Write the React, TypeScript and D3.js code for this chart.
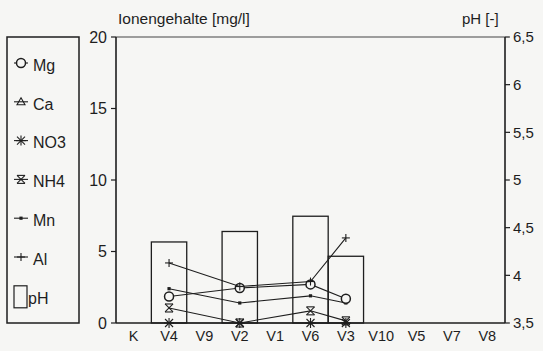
import React from "react";
import * as d3 from "d3";

const categories = ["K", "V4", "V9", "V2", "V1", "V6", "V3", "V10", "V5", "V7", "V8"];
const leftTicks = [0, 5, 10, 15, 20];
const rightTicks = [3.5, 4, 4.5, 5, 5.5, 6, 6.5];

// pH bars
const phCats = ["V4", "V2", "V6", "V3"];
const phValues = [4.35, 4.46, 4.62, 4.2];

// Ion contents (mg/l), in order of phCats
const mgValues = [1.85, 2.45, 2.7, 1.7];
const caValues: (number | null)[] = [null, null, null, null];
const no3Values = [0.0, 0.0, 0.0, 0.0];
const nh4Values = [1.05, 0.0, 0.85, 0.15];
const mnValues = [2.4, 1.4, 1.9, 1.4];
const alValues = [4.2, 2.55, 2.9, 5.95];

const legendNames = ["Mg", "Ca", "NO3", "NH4", "Mn", "Al", "pH"];

const W = 543, H = 351;
const left = 116, right = 505, top = 37, bottom = 323;
const ink = "#1e1e1e";
const bg = "#f6f6f4";
const font = "'Liberation Sans', Arial, sans-serif";

function Marker({ type, x, y }: { type: string; x: number; y: number }) {
  const s = 4;
  switch (type) {
    case "Mg":
      return <circle cx={x} cy={y} r={4.5} fill={bg} stroke={ink} strokeWidth={1.5} />;
    case "Ca":
      return <path d={`M${x},${y - 4}L${x + 4},${y + 3}L${x - 4},${y + 3}Z`} fill="none" stroke={ink} strokeWidth={1.1} />;
    case "NO3":
      return (
        <g stroke={ink} strokeWidth={1.1}>
          <line x1={x - s} y1={y - s} x2={x + s} y2={y + s} />
          <line x1={x - s} y1={y + s} x2={x + s} y2={y - s} />
          <line x1={x} y1={y - s - 1} x2={x} y2={y + s + 1} />
          <line x1={x - s - 1} y1={y} x2={x + s + 1} y2={y} />
        </g>
      );
    case "NH4":
      return (
        <g stroke={ink} strokeWidth={1.1}>
          <line x1={x - s} y1={y - s} x2={x + s} y2={y + s} />
          <line x1={x - s} y1={y + s} x2={x + s} y2={y - s} />
          <line x1={x - s} y1={y - s} x2={x + s} y2={y - s} />
          <line x1={x - s} y1={y + s} x2={x + s} y2={y + s} />
        </g>
      );
    case "Mn":
      return <rect x={x - 1.6} y={y - 1.6} width={3.2} height={3.2} fill={ink} />;
    case "Al":
      return (
        <g stroke={ink} strokeWidth={1.1}>
          <line x1={x - 4} y1={y} x2={x + 4} y2={y} />
          <line x1={x} y1={y - 4} x2={x} y2={y + 4} />
        </g>
      );
    default:
      return null;
  }
}

export default function App() {
  const x = d3.scaleBand<string>().domain(categories).range([left, right]).padding(0);
  const yL = d3.scaleLinear().domain([0, 20]).range([bottom, top]);
  const yR = d3.scaleLinear().domain([3.5, 6.5]).range([bottom, top]);
  const cx = (c: string) => (x(c) ?? 0) + x.bandwidth() / 2;

  const series: { name: string; values: (number | null)[] }[] = [
    { name: "NO3", values: no3Values },
    { name: "NH4", values: nh4Values },
    { name: "Mn", values: mnValues },
    { name: "Mg", values: mgValues },
    { name: "Ca", values: caValues },
    { name: "Al", values: alValues },
  ];

  const line = d3
    .line<{ c: string; v: number | null }>()
    .defined((d) => d.v != null)
    .x((d) => cx(d.c))
    .y((d) => yL(d.v as number));

  const legendY = (i: number) => 65 + i * 38.8;

  return (
    <svg
      width={W}
      height={H}
      style={{ position: "absolute", left: 0, top: 0, background: bg }}
      fontFamily={font}
    >
      <rect x={0} y={0} width={W} height={H} fill={bg} />
      {/* titles */}
      <text x={118} y={24} fontSize={15.5} fill={ink}>Ionengehalte [mg/l]</text>
      <text x={462} y={24} fontSize={15} fill={ink}>pH [-]</text>

      {/* pH bars */}
      {phCats.map((c, i) => (
        <rect
          key={c}
          x={x(c)}
          y={yR(phValues[i])}
          width={x.bandwidth()}
          height={yR(3.5) - yR(phValues[i])}
          fill="none"
          stroke={ink}
          strokeWidth={1.3}
        />
      ))}

      {/* frame */}
      <line x1={left} y1={top} x2={right} y2={top} stroke="#444" strokeWidth={1.1} />
      <line x1={left} y1={bottom} x2={right} y2={bottom} stroke={ink} strokeWidth={1.5} />
      <line x1={left} y1={top} x2={left} y2={bottom} stroke={ink} strokeWidth={1.6} />
      <line x1={right} y1={top} x2={right} y2={bottom} stroke={ink} strokeWidth={1.6} />

      {/* left axis */}
      {leftTicks.map((t) => (
        <g key={t}>
          <line x1={left - 5} y1={yL(t)} x2={left} y2={yL(t)} stroke={ink} strokeWidth={1.2} />
          <text x={107} y={yL(t)} dy="0.36em" textAnchor="end" fontSize={16} fill={ink}>{t}</text>
        </g>
      ))}
      {/* right axis */}
      {rightTicks.map((t) => (
        <g key={t}>
          <line x1={right} y1={yR(t)} x2={right + 5} y2={yR(t)} stroke={ink} strokeWidth={1.2} />
          <text x={513} y={yR(t)} dy="0.36em" fontSize={15} fill={ink}>
            {String(t).replace(".", ",")}
          </text>
        </g>
      ))}
      {/* categories */}
      {categories.map((c) => (
        <text key={c} x={cx(c)} y={341} textAnchor="middle" fontSize={14.5} fill={ink}>{c}</text>
      ))}

      {/* series lines */}
      {series.map((s) => {
        const pts = phCats.map((c, i) => ({ c, v: s.values[i] }));
        return (
          <g key={s.name}>
            <path d={line(pts) ?? ""} fill="none" stroke={ink} strokeWidth={1.1} />
            {pts
              .filter((p) => p.v != null)
              .map((p) => (
                <Marker key={p.c} type={s.name} x={cx(p.c)} y={yL(p.v as number)} />
              ))}
          </g>
        );
      })}

      {/* legend */}
      <rect x={7} y={37} width={72} height={286} fill="none" stroke={ink} strokeWidth={1.5} />
      {legendNames.map((n, i) => {
        const y = legendY(i);
        if (n === "pH") {
          return (
            <g key={n}>
              <rect x={14} y={y - 12} width={13} height={22} fill="none" stroke={ink} strokeWidth={1.2} />
              <text x={28} y={y} dy="0.36em" fontSize={16} fill={ink}>{n}</text>
            </g>
          );
        }
        return (
          <g key={n}>
            <line x1={14} y1={y - 2} x2={28} y2={y - 2} stroke={ink} strokeWidth={1.1} />
            <Marker type={n} x={21} y={y - 2} />
            <text x={33} y={y} dy="0.36em" fontSize={16} fill={ink}>{n}</text>
          </g>
        );
      })}
    </svg>
  );
}
